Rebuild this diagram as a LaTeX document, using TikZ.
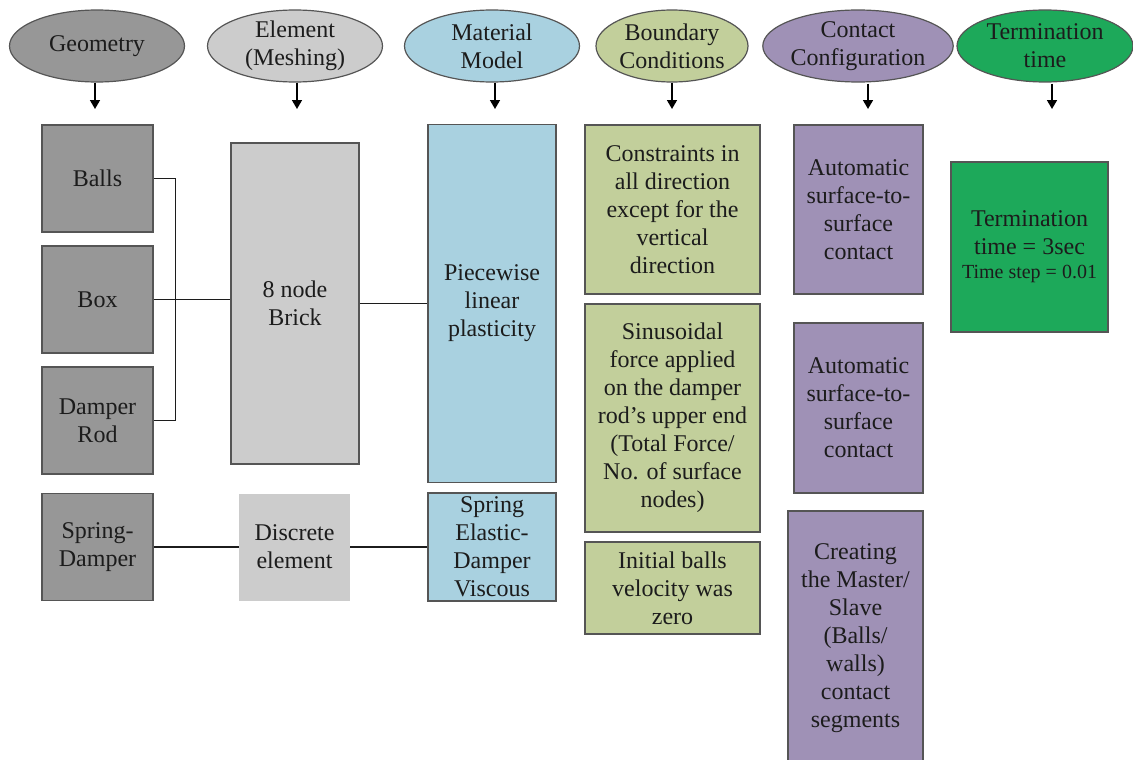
\documentclass[tikz,border=0pt]{standalone}
\usepackage{fontspec}
\setmainfont{Liberation Serif}
\usetikzlibrary{shapes.geometric,arrows.meta}

\definecolor{geogray}{HTML}{979797}
\definecolor{elemgray}{HTML}{CCCCCC}
\definecolor{matblue}{HTML}{A9D1E0}
\definecolor{bcgreen}{HTML}{C2CF9B}
\definecolor{contpurple}{HTML}{9F91B6}
\definecolor{termgreen}{HTML}{1DA95A}
\definecolor{edge}{HTML}{555555}
\definecolor{ink}{HTML}{1C1C1C}

\tikzset{
  txt/.style={font=\fontsize{24}{28}\selectfont, text=ink, align=center, inner sep=0pt},
  head/.style={txt, ellipse, draw=edge, line width=1.2pt},
  blk/.style={txt, rectangle, draw=edge, line width=1.6pt},
  link/.style={draw=ink, line width=1.3pt},
  down/.style={draw=black, line width=1.6pt, -{Triangle[length=9pt,width=10pt]}},
}

\begin{document}
\begin{tikzpicture}[x=1pt, y=-1pt]
\useasboundingbox (0,0) rectangle (1133,760);

% column headings
\node[head, fill=geogray,    minimum width=175pt, minimum height=72pt] (geo)  at (97,46)   {Geometry};
\node[head, fill=elemgray,   minimum width=175pt, minimum height=72pt] (elem) at (295,46)  {Element\\(Meshing)};
\node[head, fill=matblue,    minimum width=175pt, minimum height=72pt] (mat)  at (492,46)  {Material\\Model};
\node[head, fill=bcgreen,    minimum width=152pt, minimum height=72pt] (bnd)  at (672,46)  {Boundary\\Conditions};
\node[head, fill=contpurple, minimum width=187pt, minimum height=72pt] (cont) at (858,46)  {Contact\\Configuration};
\node[head, fill=termgreen,  minimum width=176pt, minimum height=72pt] (term) at (1045,46) {Termination\\time};

% arrow ends below the headings
\coordinate (geoE)  at (95,109);
\coordinate (elemE) at (297,109);
\coordinate (matE)  at (495,109);
\coordinate (bndE)  at (672,109);
\coordinate (contE) at (868,109);
\coordinate (termE) at (1052,109);

\draw[down] (geoE |- geo.south)   -- (geoE);
\draw[down] (elemE |- elem.south) -- (elemE);
\draw[down] (matE |- mat.south)   -- (matE);
\draw[down] (bndE |- bnd.south)   -- (bndE);
\draw[down] ([yshift=-1pt]contE |- cont.south) -- (contE);
\draw[down] ([yshift=-1pt]termE |- term.south) -- (termE);

% geometry parts
\node[blk, fill=geogray, minimum width=111pt, minimum height=107pt] (balls)  at (97.5,178.5) {Balls};
\node[blk, fill=geogray, minimum width=111pt, minimum height=107pt] (box)    at (97.5,299.5) {Box};
\node[blk, fill=geogray, minimum width=111pt, minimum height=107pt] (rod)    at (97.5,420.5) {Damper\\Rod};
\node[blk, fill=geogray, minimum width=111pt, minimum height=107pt] (spring) at (97.5,547) {Spring-\\Damper};

% elements
\node[blk, fill=elemgray, minimum width=128pt, minimum height=321pt] (brick) at (295,303.5) {8 node\\Brick};
\node[txt, fill=elemgray, minimum width=111pt, minimum height=107pt] (discrete) at (294.5,547) {Discrete\\element};

% material models
\node[blk, fill=matblue, minimum width=128pt, minimum height=358pt] (plast) at (492,303.5) {Piecewise\\linear\\plasticity};
\node[blk, fill=matblue, minimum width=128pt, minimum height=108pt] (visc)  at (492,547) {Spring\\Elastic-\\Damper\\Viscous};

% boundary conditions
\node[blk, fill=bcgreen, minimum width=175pt, minimum height=169pt] (cons)  at (672.5,209.5)
  {Constraints in\\all direction\\except for the\\vertical\\direction};
\node[blk, fill=bcgreen, minimum width=175pt, minimum height=228pt] (sinus) at (672.5,418)
  {Sinusoidal\\force applied\\on the damper\\rod’s upper end\\(Total Force/\\No. of surface\\nodes)};
\node[blk, fill=bcgreen, minimum width=175pt, minimum height=92pt]  (init)  at (672.5,588)
  {Initial balls\\velocity was\\zero};

% contact definitions
\node[blk, fill=contpurple, minimum width=129pt, minimum height=169pt] (auto1) at (858.5,209.5)
  {Automatic\\surface-to-\\surface\\contact};
\node[blk, fill=contpurple, minimum width=129pt, minimum height=170pt] (auto2) at (858.5,408)
  {Automatic\\surface-to-\\surface\\contact};
\node[blk, fill=contpurple, minimum width=135pt, minimum height=255pt] (master) at (855.5,638.5)
  {Creating\\the Master/\\Slave\\(Balls/\\walls)\\contact\\segments};

% termination
\node[blk, fill=termgreen, minimum width=157pt, minimum height=170pt] (tend) at (1029.5,247)
  {Termination\\time = 3sec\\[-4pt]{\fontsize{20}{24}\selectfont Time step = 0.01}};

% connectors
\draw[link] (balls.east) -- ++(22,0) |- (rod.east);
\draw[link] (box.east) -- (box.east -| brick.west);
\draw[link] (brick.east) -- (plast.west);
\draw[link] (spring.east) -- (discrete.west);
\draw[link] (discrete.east) -- (visc.west);
\end{tikzpicture}
\end{document}
